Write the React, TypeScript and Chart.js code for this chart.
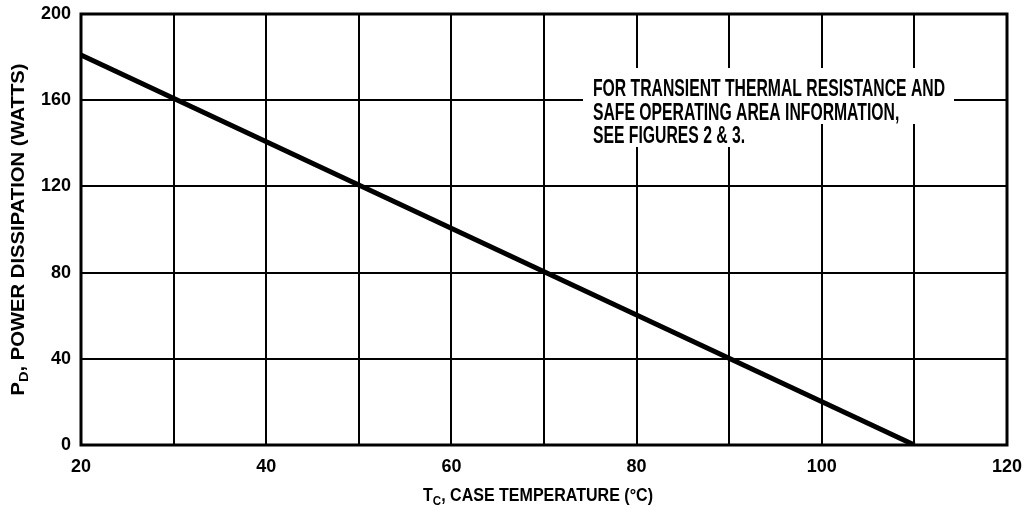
import React, { useEffect, useRef } from "react";
import { Chart, registerables } from "chart.js";

Chart.register(...registerables);

// Data
const caseTempC = [20, 110];
const powerWatts = [181, 0];
const xTickLabels = ["20", "40", "60", "80", "100", "120"];
const yTickLabels = ["0", "40", "80", "120", "160", "200"];
const noteLines = [
  "FOR TRANSIENT THERMAL RESISTANCE AND",
  "SAFE OPERATING AREA INFORMATION,",
  "SEE FIGURES 2 & 3.",
];

const FONT = "'Liberation Sans', Arial, sans-serif";

// draw text horizontally condensed (real text, scaled canvas)
function condensedText(ctx: any, text: string, x: number, y: number, sx: number) {
  ctx.save();
  ctx.translate(x, y);
  ctx.scale(sx, 1);
  ctx.fillText(text, 0, 0);
  ctx.restore();
}

const NOTE_FONT = `bold 23.5px ${FONT}`;

const overlayPlugin = {
  id: "overlay",
  beforeDatasetsDraw(chart: any) {
    const ctx = chart.ctx;
    const area = chart.chartArea;
    ctx.save();
    ctx.font = NOTE_FONT;
    const sx = 352 / ctx.measureText(noteLines[0]).width;
    const tx = area.left + 512;
    const tops = [area.top + 54, area.top + 87, area.top + 110];
    const bottoms = [area.top + 87, area.top + 110, area.top + 133];
    const extra = [9, 24, 10];
    noteLines.forEach((line, i) => {
      const w = ctx.measureText(line).width * sx;
      ctx.fillStyle = "#ffffff";
      ctx.fillRect(tx - 10, tops[i], w + 10 + extra[i], bottoms[i] - tops[i]);
    });
    ctx.restore();
  },
  afterDatasetsDraw(chart: any) {
    const ctx = chart.ctx;
    const area = chart.chartArea;
    ctx.save();
    // frame
    ctx.strokeStyle = "#000";
    ctx.lineWidth = 3;
    ctx.strokeRect(area.left, area.top, area.right - area.left, area.bottom - area.top);
    // note text
    ctx.fillStyle = "#000";
    ctx.font = NOTE_FONT;
    ctx.textBaseline = "alphabetic";
    ctx.textAlign = "left";
    const sx = 352 / ctx.measureText(noteLines[0]).width;
    const tx = area.left + 512;
    noteLines.forEach((line, i) => {
      condensedText(ctx, line, tx, area.top + 82 + i * 23.5, sx);
    });
    // axis titles with subscript
    const drawSub = (main: string, sub: string, rest: string, cx: number, cy: number, targetW: number) => {
      ctx.font = `bold 18px ${FONT}`;
      const w1 = ctx.measureText(main).width;
      const w3 = ctx.measureText(rest).width;
      ctx.font = `bold 13px ${FONT}`;
      const w2 = ctx.measureText(sub).width;
      const total = w1 + w2 + w3;
      const s = targetW / total;
      ctx.save();
      ctx.translate(cx - targetW / 2, cy);
      ctx.scale(s, 1);
      ctx.textAlign = "left";
      ctx.font = `bold 18px ${FONT}`;
      ctx.fillText(main, 0, 0);
      ctx.font = `bold 13px ${FONT}`;
      ctx.fillText(sub, w1, 4);
      ctx.font = `bold 18px ${FONT}`;
      ctx.fillText(rest, w1 + w2, 0);
      ctx.restore();
    };
    drawSub("T", "C", ", CASE TEMPERATURE (°C)", 538, 501, 230);
    ctx.save();
    ctx.translate(24, (area.top + area.bottom) / 2);
    ctx.rotate(-Math.PI / 2);
    drawSub("P", "D", ", POWER DISSIPATION (WATTS)", 0, 0, 332);
    ctx.restore();
    ctx.restore();
  },
};

export default function App() {
  const ref = useRef<HTMLCanvasElement | null>(null);
  useEffect(() => {
    if (!ref.current) return;
    const points = caseTempC.map((x, i) => ({ x, y: powerWatts[i] }));
    const chart = new Chart(ref.current, {
      type: "line",
      data: {
        datasets: [
          {
            data: points,
            borderColor: "#000",
            borderWidth: 5,
            pointRadius: 0,
            tension: 0,
            fill: false,
          },
        ],
      },
      options: {
        responsive: false,
        animation: false,
        events: [],
        layout: { padding: { top: 14, right: 16, left: 0, bottom: 0 }, autoPadding: false },
        plugins: { legend: { display: false }, tooltip: { enabled: false }, title: { display: false } },
        scales: {
          x: {
            type: "linear",
            min: 20,
            max: 120,
            afterFit: (s: any) => {
              s.height = 62;
              s.paddingLeft = 0;
              s.paddingRight = 0;
            },
            ticks: {
              stepSize: 10,
              padding: 11,
              color: "#000",
              font: { family: FONT, size: 18, weight: "bold" },
              maxRotation: 0,
              autoSkip: false,
              callback: (v: any) => {
                const s = String(v);
                return xTickLabels.includes(s) ? s : "";
              },
            },
            grid: { color: "#000", lineWidth: 2, drawTicks: false },
            border: { display: false },
          },
          y: {
            type: "linear",
            min: 0,
            max: 200,
            afterFit: (s: any) => {
              s.width = 81;
              s.paddingTop = 0;
              s.paddingBottom = 0;
            },
            ticks: {
              stepSize: 40,
              padding: 10,
              color: "#000",
              font: { family: FONT, size: 18, weight: "bold" },
              autoSkip: false,
              callback: (v: any) => {
                const s = String(v);
                return yTickLabels.includes(s) ? s : "";
              },
            },
            grid: { color: "#000", lineWidth: 2, drawTicks: false },
            border: { display: false },
          },
        },
      },
      plugins: [overlayPlugin],
    });
    return () => chart.destroy();
  }, []);
  return (
    <canvas
      ref={ref}
      width={1023}
      height={507}
      style={{ position: "fixed", left: 0, top: 0, width: 1023, height: 507, display: "block", background: "#fff" }}
    />
  );
}
